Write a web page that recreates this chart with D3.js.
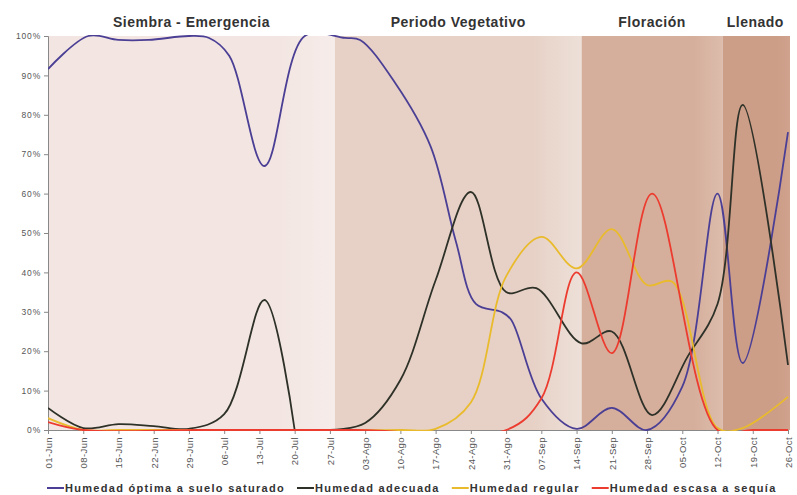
<!DOCTYPE html>
<html>
<head>
<meta charset="utf-8">
<script src="https://cdn.jsdelivr.net/npm/d3@7"></script>
<style>
  body { margin: 0; background: #fff; }
  svg { display: block; font-family: "Liberation Sans", Arial, sans-serif; }
</style>
</head>
<body>
<svg id="chart" width="797" height="495"></svg>
<script>
// phases of the crop (background bands)
var phaseNames = ["Siembra - Emergencia", "Periodo Vegetativo", "Floración", "Llenado"];
var phaseStarts = ["2008-06-01", "2008-07-28", "2008-09-15", "2008-10-13"];
var phaseEnd = "2008-10-26";

// axis ticks
var tickDates = ["2008-06-01", "2008-06-08", "2008-06-15", "2008-06-22", "2008-06-29",
  "2008-07-06", "2008-07-13", "2008-07-20", "2008-07-27", "2008-08-03", "2008-08-10",
  "2008-08-17", "2008-08-24", "2008-08-31", "2008-09-07", "2008-09-14", "2008-09-21",
  "2008-09-28", "2008-10-05", "2008-10-12", "2008-10-19", "2008-10-26"];
var tickLabels = ["01-Jun", "08-Jun", "15-Jun", "22-Jun", "29-Jun", "06-Jul", "13-Jul",
  "20-Jul", "27-Jul", "03-Ago", "10-Ago", "17-Ago", "24-Ago", "31-Ago", "07-Sep",
  "14-Sep", "21-Sep", "28-Sep", "05-Oct", "12-Oct", "19-Oct", "26-Oct"];
var yTicks = [0, 10, 20, 30, 40, 50, 60, 70, 80, 90, 100];

// series
var seriesNames = ["Humedad óptima a suelo saturado", "Humedad adecuada", "Humedad regular", "Humedad escasa a sequía"];

var optima = [
  ["2008-06-01", 91.6], ["2008-06-09", 100], ["2008-06-15", 99], ["2008-06-21", 99],
  ["2008-06-29", 100], ["2008-07-03", 99.5], ["2008-07-07", 95], ["2008-07-14", 67],
  ["2008-07-22", 100], ["2008-07-30", 99.5], ["2008-08-02", 99], ["2008-08-09", 88],
  ["2008-08-16", 72], ["2008-08-21", 48], ["2008-08-25", 32], ["2008-08-30", 30],
  ["2008-09-01", 28], ["2008-09-07", 8], ["2008-09-14", 0.3], ["2008-09-21", 5.6],
  ["2008-09-28", 0], ["2008-10-05", 11], ["2008-10-12", 60], ["2008-10-17", 17],
  ["2008-10-26", 75.6]
];
var adecuada = [
  ["2008-06-01", 5.6], ["2008-06-08", 0.5], ["2008-06-15", 1.5], ["2008-06-22", 1],
  ["2008-06-29", 0.3], ["2008-07-06", 4], ["2008-07-14", 33], ["2008-07-20", 0],
  ["2008-07-24", null], ["2008-07-27", 0], ["2008-08-03", 1.8], ["2008-08-10", 12.7],
  ["2008-08-17", 38], ["2008-08-24", 60.4], ["2008-08-31", 35], ["2008-09-06", 36],
  ["2008-09-15", 22], ["2008-09-21", 25], ["2008-09-29", 3.8], ["2008-10-06", 18.5],
  ["2008-10-12", 32], ["2008-10-17", 82.5], ["2008-10-26", 16.5]
];
var regular = [
  ["2008-06-01", 3], ["2008-06-08", 0], ["2008-06-15", 0], ["2008-07-01", 0],
  ["2008-07-20", 0], ["2008-08-10", 0], ["2008-08-17", 0.3], ["2008-08-24", 7],
  ["2008-08-31", 39], ["2008-09-07", 49], ["2008-09-14", 41], ["2008-09-21", 51],
  ["2008-09-28", 36.8], ["2008-10-03", 37.6], ["2008-10-12", 0.5], ["2008-10-17", 0.5],
  ["2008-10-26", 8.4]
];
var escasa = [
  ["2008-06-01", 2], ["2008-06-08", 0], ["2008-07-01", 0], ["2008-08-01", 0],
  ["2008-08-31", 0], ["2008-09-07", 8], ["2008-09-14", 40], ["2008-09-21", 19.5],
  ["2008-09-29", 60], ["2008-10-12", 0], ["2008-10-19", 0], ["2008-10-26", 0]
];

// styles
var phaseColors = [["#f3e6e2", "#f6ece9"], ["#e7d1c6", "#ede0d8"], ["#d6af9c", "#dcbcac"], ["#cc9d87", "#d0a38e"]];
var seriesColors = ["#4b3f95", "#2e3128", "#e9bb2c", "#ec3b2f"];

var svg = d3.select("#chart");
var parse = d3.timeParse("%Y-%m-%d");
var plotTop = 36, plotBottom = 430, plotLeft = 48, plotRight = 788;

var x = d3.scaleTime()
  .domain([parse(tickDates[0]), parse(tickDates[tickDates.length - 1])])
  .range([plotLeft, plotRight]);
var y = d3.scaleLinear().domain([0, 100]).range([plotBottom, plotTop]);

var defs = svg.append("defs");
defs.append("clipPath").attr("id", "plotClip").append("rect")
  .attr("x", plotLeft).attr("y", plotTop - 1)
  .attr("width", plotRight - plotLeft + 3).attr("height", plotBottom - plotTop + 2);

// gradients for bands
phaseColors.forEach(function(c, i) {
  var g = defs.append("linearGradient").attr("id", "band" + i)
    .attr("x1", "0").attr("x2", "1").attr("y1", "0").attr("y2", "0");
  g.append("stop").attr("offset", "0%").attr("stop-color", c[0]);
  g.append("stop").attr("offset", "80%").attr("stop-color", c[0]);
  g.append("stop").attr("offset", "100%").attr("stop-color", c[1]);
});

var bands = phaseNames.map(function(name, i) {
  return { name: name, start: parse(phaseStarts[i]), end: parse(i < phaseStarts.length - 1 ? phaseStarts[i + 1] : phaseEnd) };
});

svg.selectAll("rect.band").data(bands).enter().append("rect")
  .attr("class", "band")
  .attr("x", function(d) { return x(d.start); })
  .attr("y", plotTop)
  .attr("width", function(d, i) { return x(d.end) - x(d.start) + (i === bands.length - 1 ? 2 : 0); })
  .attr("height", plotBottom - plotTop)
  .attr("fill", function(d, i) { return "url(#band" + i + ")"; });

svg.selectAll("text.phase").data(bands).enter().append("text")
  .attr("class", "phase")
  .attr("x", function(d) { return (x(d.start) + x(d.end)) / 2; })
  .attr("y", 27)
  .attr("text-anchor", "middle")
  .attr("font-size", 14)
  .attr("font-weight", "bold")
  .attr("letter-spacing", 0.5)
  .attr("fill", "#333")
  .text(function(d) { return d.name; });

// axes
var yAxis = svg.append("g").attr("transform", "translate(" + plotLeft + ",0)")
  .call(d3.axisLeft(y).tickValues(yTicks).tickSize(4).tickFormat(function(d) { return d + "%"; }));
yAxis.select(".domain").attr("stroke", "#888");
yAxis.selectAll(".tick line").attr("stroke", "#888");
yAxis.selectAll("text").attr("font-size", 8.5).attr("font-family", "Liberation Sans, Arial, sans-serif")
  .attr("letter-spacing", 0.8).attr("fill", "#555");

var xAxis = svg.append("g").attr("transform", "translate(0," + plotBottom + ")")
  .call(d3.axisBottom(x).tickValues(tickDates.map(parse)).tickSize(4)
    .tickFormat(function(d, i) { return tickLabels[i]; }));
xAxis.select(".domain").attr("stroke", "#888");
xAxis.selectAll(".tick line").attr("stroke", "#888");
xAxis.selectAll("text")
  .attr("font-size", 9.5).attr("font-family", "Liberation Sans, Arial, sans-serif")
  .attr("letter-spacing", 0.4).attr("fill", "#555")
  .attr("text-anchor", "end")
  .attr("transform", "rotate(-90)")
  .attr("x", -7).attr("y", 0).attr("dy", "0.35em");

// lines (smoothed like the original spreadsheet chart, clipped to the plot)
var allSeries = [optima, adecuada, regular, escasa];
var line = d3.line()
  .defined(function(d) { return d[1] !== null; })
  .x(function(d) { return x(parse(d[0])); })
  .y(function(d) { return y(d[1]); })
  .curve(d3.curveCatmullRom.alpha(0.5));

svg.append("g").attr("clip-path", "url(#plotClip)")
  .selectAll("path.series").data(allSeries).enter().append("path")
  .attr("class", "series")
  .attr("fill", "none")
  .attr("stroke", function(d, i) { return seriesColors[i]; })
  .attr("stroke-width", 1.8)
  .attr("d", line);

// legend
var legend = svg.append("g").attr("transform", "translate(47,488)");
var lx = 0;
seriesNames.forEach(function(name, i) {
  var item = legend.append("g").attr("transform", "translate(" + lx + ",0)");
  item.append("line").attr("x1", 0).attr("x2", 17).attr("y1", 0).attr("y2", 0)
    .attr("stroke", seriesColors[i]).attr("stroke-width", 2);
  var t = item.append("text").attr("x", 18).attr("y", 4)
    .attr("font-size", 11).attr("font-weight", "bold").attr("letter-spacing", 1.3)
    .attr("fill", "#333").text(name);
  lx += 18 + t.node().getComputedTextLength() + 12;
});
</script>
</body>
</html>
